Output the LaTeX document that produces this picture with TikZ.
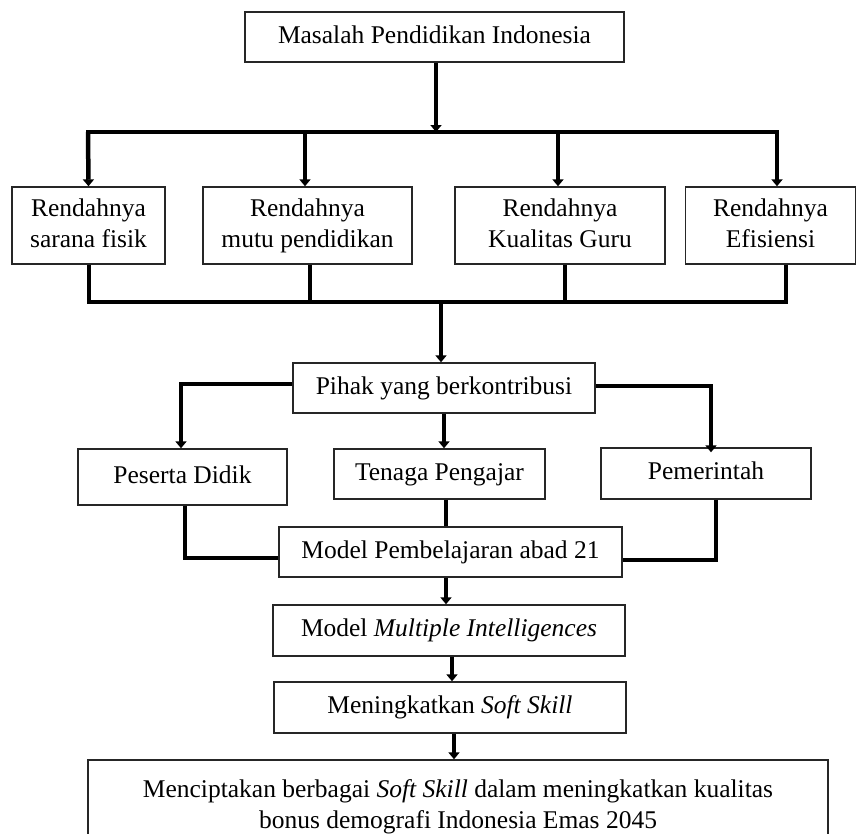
\documentclass[tikz,border=0pt]{standalone}
\usepackage{fontspec}
\setmainfont{Liberation Serif}
\usetikzlibrary{arrows.meta,calc}
\begin{document}
\begin{tikzpicture}[x=1pt,y=-1pt,
  box/.style={draw=black!85, line width=1.4pt, inner sep=0pt, align=center,
    font=\fontsize{25.5}{31}\selectfont},
  arr/.style={line width=4.5pt, -{Triangle[width=11pt,length=7pt]}},
  bus/.style={line width=4pt},
  thin/.style={line width=3.2pt}]
\useasboundingbox (0,0) rectangle (858,833);
\clip (0,0) rectangle (858,833);
\fill[white] (0,0) rectangle (858,833);
% boxes
\node[box, minimum width=379, minimum height=50] (top) at (434.5,37) {\strut Masalah Pendidikan Indonesia};
\node[box, minimum width=153, minimum height=77] (r1) at (88.5,225.5) {\strut Rendahnya\\\strut sarana fisik};
\node[box, minimum width=209, minimum height=77] (r2) at (307.5,225.5) {\strut Rendahnya\\\strut mutu pendidikan};
\node[box, minimum width=210, minimum height=77] (r3) at (560,225.5) {\strut Rendahnya\\\strut Kualitas Guru};
\node[box, minimum width=170, minimum height=77] (r4) at (770.5,225.5) {\strut Rendahnya\\\strut Efisiensi};
\node[box, minimum width=302, minimum height=50] (pihak) at (444,388) {\strut Pihak yang berkontribusi};
\node[box, minimum width=209, minimum height=56] (peserta) at (182.5,477) {\raisebox{3pt}{\strut Peserta Didik}};
\node[box, minimum width=211, minimum height=50] (tenaga) at (439.5,474) {\strut Tenaga Pengajar};
\node[box, minimum width=210, minimum height=51] (pemerintah) at (706,473.5) {\strut Pemerintah};
\node[box, minimum width=343, minimum height=50] (model) at (450.5,552) {\strut Model Pembelajaran abad 21};
\node[box, minimum width=352, minimum height=51] (mi) at (449,630.5) {\strut Model \textit{Multiple Intelligences}};
\node[box, minimum width=352, minimum height=51] (mss) at (450,707.5) {\strut Meningkatkan \textit{Soft Skill}};
\node[box, minimum width=740, minimum height=94] (final) at (458,807)
  {\strut Menciptakan berbagai \textit{Soft Skill} dalam meningkatkan kualitas\\\strut bonus demografi Indonesia Emas 2045};
% bus 1
\coordinate (b1) at (88,132);
\coordinate (b4) at (777,132);
\draw[arr] ([xshift=1.5pt]top.south) -- ([xshift=1.5pt]top.south |- b1);
\draw[bus] ([xshift=-2pt]b1) -- ([xshift=2pt]b4);
\draw[arr] (b1) -- (r1.north);
\draw[arr] (b1 -| r2.north) ++(-2.5,0) -- ([xshift=-2.5pt]r2.north);
\draw[arr] (b1 -| r3.north) ++(-2,0) -- ([xshift=-2pt]r3.north);
\draw[arr] (b4) -- ([xshift=6.5pt]r4.north);
% bus 2
\coordinate (c1) at (89,302);
\coordinate (c4) at (786,302);
\draw[thin] ([xshift=0.5pt]r1.south) -- (c1);
\draw[thin] ([xshift=2.5pt]r2.south) -- ([xshift=2.5pt]r2.south |- c1);
\draw[thin] ([xshift=5pt]r3.south) -- ([xshift=5pt]r3.south |- c1);
\draw[thin] ([xshift=15.5pt]r4.south) -- (c4);
\draw[bus] ([xshift=-1.6pt]c1) -- ([xshift=1.6pt]c4);
\draw[arr] ([xshift=-3pt]pihak.north |- c1) -- ([xshift=-3pt]pihak.north);
% pihak to three
\draw[arr] ([yshift=4pt]pihak.west) -| ([xshift=-1.5pt]peserta.north);
\draw[arr] ([yshift=2pt]pihak.east) -| ([xshift=5pt,yshift=-5pt]pemerintah.north);
\draw[arr] (pihak.south) -- (pihak.south |- tenaga.north);
% three to model
\draw[thin] ([xshift=2.5pt]peserta.south) |- ([yshift=-6pt]model.west);
\draw[thin] ([xshift=6.5pt]tenaga.south) -- ([xshift=6.5pt]tenaga.south |- model.north);
\draw[thin] ([xshift=10pt]pemerintah.south) |- ([yshift=-8pt]model.east);
% chain
\draw[arr] ([xshift=-4.5pt]model.south) -- ([xshift=-4.5pt]model.south |- mi.north);
\draw[arr] ([xshift=3pt]mi.south) -- ([xshift=3pt]mi.south |- mss.north);
\draw[arr] ([xshift=4pt]mss.south) -- ([xshift=4pt]mss.south |- final.north);
\end{tikzpicture}
\end{document}
